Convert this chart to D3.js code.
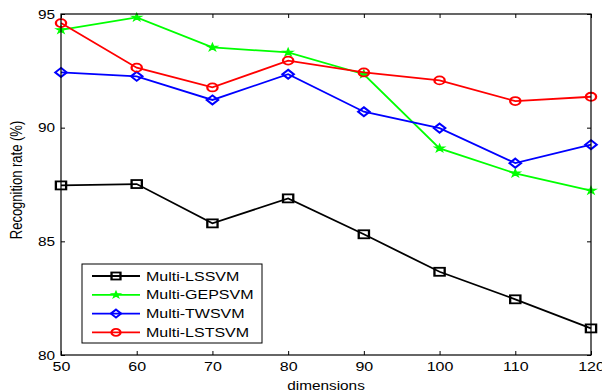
<!DOCTYPE html>
<html>
<head>
<meta charset="utf-8">
<script src="https://cdn.jsdelivr.net/npm/d3@7"></script>
<style>
  body { margin: 0; background: #fff; }
  text { font-family: "Liberation Sans", Arial, sans-serif; font-size: 12px; fill: #000; }
</style>
</head>
<body>
<svg id="chart" width="602" height="392"></svg>
<script>
// data
var dims = [50, 60, 70, 80, 90, 100, 110, 120];
var lssvm  = [87.46, 87.52, 85.79, 86.89, 85.31, 83.66, 82.45, 81.17];
var gepsvm = [94.30, 94.85, 93.53, 93.31, 92.35, 89.09, 87.99, 87.23];
var twsvm  = [92.43, 92.26, 91.22, 92.35, 90.70, 89.98, 88.44, 89.25];
var lstsvm = [94.60, 92.64, 91.77, 92.95, 92.43, 92.08, 91.17, 91.36];
var seriesNames = ["Multi-LSSVM", "Multi-GEPSVM", "Multi-TWSVM", "Multi-LSTSVM"];
var xTicks = [50, 60, 70, 80, 90, 100, 110, 120];
var yTicks = [80, 85, 90, 95];

var series = [
  {name: seriesNames[0], values: lssvm,  color: "#000000", marker: "square"},
  {name: seriesNames[1], values: gepsvm, color: "#00ff00", marker: "star"},
  {name: seriesNames[2], values: twsvm,  color: "#0000ff", marker: "diamond"},
  {name: seriesNames[3], values: lstsvm, color: "#ff0000", marker: "circle"}
];

// the picture is stretched sideways, so text and markers are too
var sx = 1.28;
var margin = {left: 61, top: 14, right: 11, bottom: 37};
var W = 602, H = 392;
var width = W - margin.left - margin.right,
    height = H - margin.top - margin.bottom;

var svg = d3.select("#chart");
var g = svg.append("g")
  .attr("transform", "translate(" + margin.left + "," + margin.top + ")");

var x = d3.scaleLinear().domain([50, 120]).range([0, width]);
var y = d3.scaleLinear().domain([80, 95]).range([height, 0]);

// axes, MATLAB style: ticks inside on all sides
var tk = 4;
var xAxis = g.append("g").attr("transform", "translate(0," + height + ")")
  .call(d3.axisBottom(x).tickValues(xTicks).tickSizeInner(-tk).tickSizeOuter(0).tickPadding(10));
var yAxis = g.append("g")
  .call(d3.axisLeft(y).tickValues(yTicks).tickSizeInner(-tk).tickSizeOuter(0).tickPadding(6));
var xTop = g.append("g")
  .call(d3.axisTop(x).tickValues(xTicks).tickSizeInner(-tk).tickSizeOuter(0).tickFormat(""));
var yRight = g.append("g").attr("transform", "translate(" + width + ",0)")
  .call(d3.axisRight(y).tickValues(yTicks).tickSizeInner(-tk).tickSizeOuter(0).tickFormat(""));

g.selectAll(".domain").remove();
g.selectAll(".tick line").attr("stroke", "#000");

xAxis.selectAll("text")
  .attr("y", null).attr("dy", null)
  .attr("transform", "translate(0,15.5) scale(" + sx + ",1)")
  .style("font-size", "12.5px");
yAxis.selectAll("text")
  .attr("x", null).attr("dy", null)
  .attr("text-anchor", "end")
  .attr("transform", "translate(-6,4) scale(" + sx + ",1)")
  .style("font-size", "12px");

// data lines
var line = d3.line()
  .x(function(d, i) { return x(dims[i]); })
  .y(function(d) { return y(d); });

function drawMarker(sel, type, color, size) {
  if (type == "square") {
    sel.append("rect").attr("x", -size / 2).attr("y", -size / 2)
      .attr("width", size).attr("height", size)
      .attr("fill", "none").attr("stroke", color).attr("stroke-width", 1.8);
  } else if (type == "circle") {
    sel.append("circle").attr("r", size / 2)
      .attr("fill", "none").attr("stroke", color).attr("stroke-width", 1.8);
  } else if (type == "diamond") {
    var r = size / 2 + 0.5;
    sel.append("path").attr("d", "M0," + (-r) + "L" + r + ",0L0," + r + "L" + (-r) + ",0Z")
      .attr("fill", "none").attr("stroke", color).attr("stroke-width", 1.8);
  } else {
    // asterisk-like star
    var r2 = size / 2 - 0.5;
    sel.append("path")
      .attr("d", d3.symbol().type(d3.symbolStar).size(r2 * r2 * 1.3)())
      .attr("fill", color).attr("stroke", color).attr("stroke-width", 1.2);
    sel.append("path")
      .attr("d", d3.symbol().type(d3.symbolTimes).size(r2 * r2 * 1.6)())
      .attr("fill", color);
  }
}

series.forEach(function(s) {
  g.append("path")
    .datum(s.values)
    .attr("d", line)
    .attr("fill", "none")
    .attr("stroke", s.color)
    .attr("stroke-width", 1.8);
  var pts = g.append("g").selectAll("g")
    .data(s.values)
    .enter().append("g")
    .attr("transform", function(d, i) {
      return "translate(" + x(dims[i]) + "," + y(d) + ") scale(" + sx + ",1)";
    });
  pts.each(function() { drawMarker(d3.select(this), s.marker, s.color, 8); });
});

// box
g.append("rect")
  .attr("width", width).attr("height", height)
  .attr("fill", "none").attr("stroke", "#000").attr("stroke-width", 1.2);

// labels
svg.append("text")
  .attr("text-anchor", "middle")
  .attr("transform", "translate(" + (margin.left + width / 2) + ",390) scale(" + sx + ",1)")
  .text("dimensions");
svg.append("text")
  .attr("text-anchor", "middle")
  .style("font-size", "13px")
  .attr("transform", "translate(22,180) scale(" + sx + ",1) rotate(-90)")
  .text("Recognition rate (%)");

// legend
var lg = svg.append("g").attr("transform", "translate(82,264)");
lg.append("rect")
  .attr("width", 180).attr("height", 79)
  .attr("fill", "#fff").attr("stroke", "#000").attr("stroke-width", 1);
var rows = lg.selectAll(".legend")
  .data(series)
  .enter().append("g")
  .attr("class", "legend")
  .attr("transform", function(d, i) { return "translate(0," + (12 + i * 18.8) + ")"; });
rows.append("line")
  .attr("x1", 10).attr("x2", 58)
  .attr("stroke", function(d) { return d.color; })
  .attr("stroke-width", 1.8);
rows.each(function(d) {
  var m = d3.select(this).append("g").attr("transform", "translate(34,0) scale(" + sx + ",1)");
  drawMarker(m, d.marker, d.color, 7);
});
rows.append("text")
  .attr("transform", "translate(64,4.5) scale(" + sx + ",1)")
  .style("font-size", "12.5px")
  .text(function(d) { return d.name; });
</script>
</body>
</html>
